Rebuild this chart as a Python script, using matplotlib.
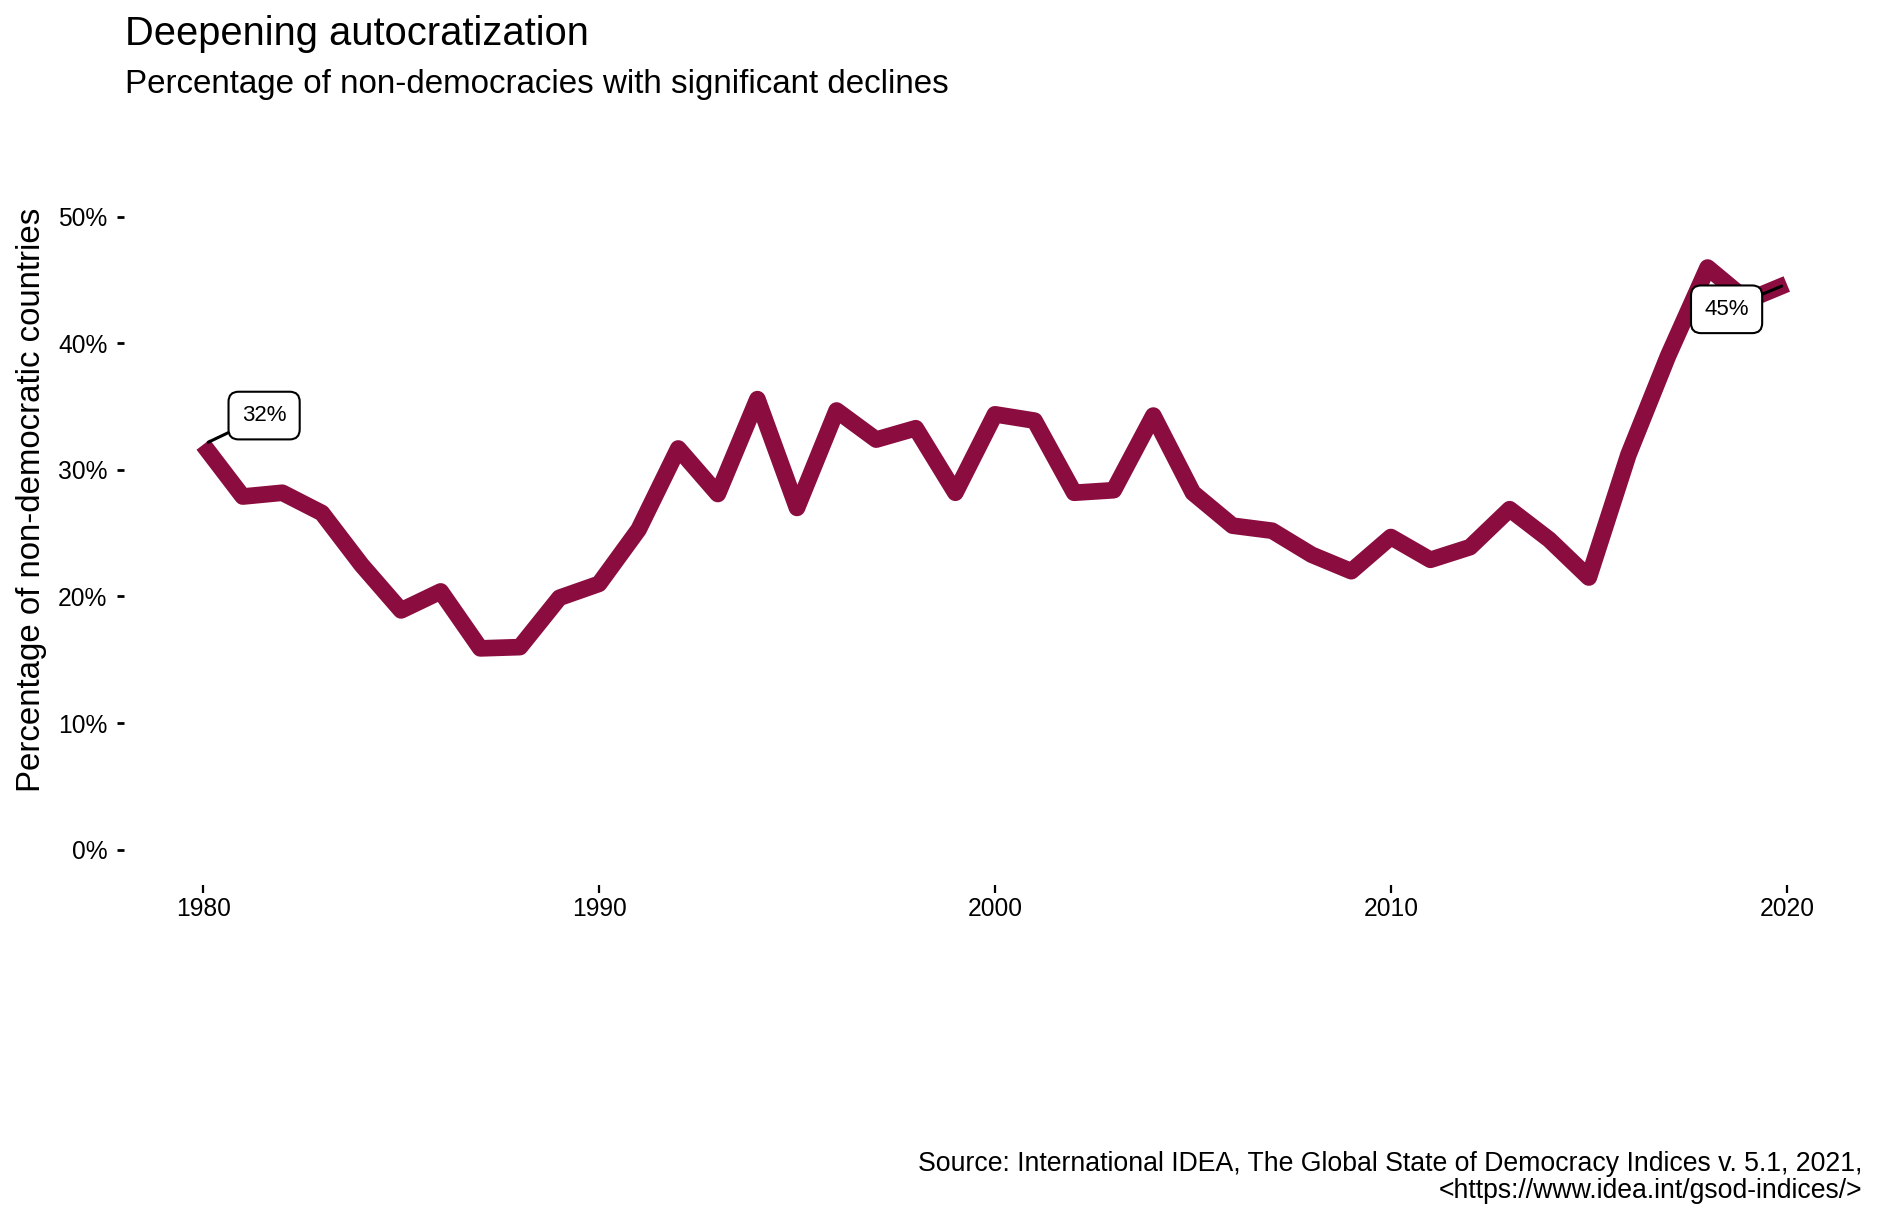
import numpy as np
import matplotlib.pyplot as plt
from matplotlib.ticker import PercentFormatter

plt.rcParams['font.family'] = ['Liberation Sans', 'DejaVu Sans']

years = np.arange(1980, 2021)
share = [32.0, 27.9, 28.2, 26.6, 22.5, 18.9, 20.4, 15.9, 16.0, 19.9,
         21.0, 25.3, 31.7, 28.1, 35.6, 27.0, 34.7, 32.4, 33.3, 28.2,
         34.4, 33.9, 28.2, 28.4, 34.3, 28.2, 25.6, 25.2, 23.3, 22.0,
         24.7, 22.9, 23.9, 26.9, 24.5, 21.5, 31.2, 39.0, 46.0, 43.4,
         44.7]
line_color = '#8b0c3f'

fig = plt.figure(figsize=(18.81, 12.22), dpi=100)
ax = fig.add_axes([0.0659, 0.2758, 0.9261, 0.5736])

ax.plot(years, share, color=line_color, lw=12,
        solid_capstyle='butt', solid_joinstyle='round', zorder=2)

ax.set_xlim(1978, 2022)
ax.set_ylim(-2.8, 52.6)
ax.set_xticks([1980, 1990, 2000, 2010, 2020])
ax.set_yticks([0, 10, 20, 30, 40, 50])
ax.yaxis.set_major_formatter(PercentFormatter(decimals=0))
ax.tick_params(axis='x', length=5.5, width=1.6, pad=3.5, labelsize=17.7)
ax.tick_params(axis='y', length=5, width=2, pad=7, labelsize=17.7)
for s in ax.spines.values():
    s.set_visible(False)

# end-point labels
bbox = dict(boxstyle='round,pad=0.6,rounding_size=0.45', fc='white',
            ec='black', lw=1.5)
ax.annotate(f'{share[0]:.0f}%', xy=(years[0], share[0]),
            xytext=(1981.54, 34.3),
            ha='center', va='center', fontsize=16, bbox=bbox, zorder=3,
            arrowprops=dict(arrowstyle='-', color='black', lw=2.2,
                            shrinkA=0, shrinkB=4))
ax.annotate(f'{share[-1]:.0f}%', xy=(years[-1], share[-1]),
            xytext=(2018.48, 42.7),
            ha='center', va='center', fontsize=16, bbox=bbox, zorder=3,
            arrowprops=dict(arrowstyle='-', color='black', lw=2.2,
                            shrinkA=0, shrinkB=4))

fig.text(0.0664, 0.9725, 'Deepening autocratization', fontsize=28.7,
         ha='left', va='center')
fig.text(0.0664, 0.931, 'Percentage of non-democracies with significant declines',
         fontsize=23.9, ha='left', va='center')
fig.text(0.0166, 0.591, 'Percentage of non-democratic countries', fontsize=23.8,
         rotation=90, ha='center', va='center')
fig.text(0.99, 0.0368,
         'Source: International IDEA, The Global State of Democracy Indices v. 5.1, 2021,\n'
         '<https://www.idea.int/gsod-indices/>',
         fontsize=19.2, ha='right', va='center', linespacing=1.05)

fig.savefig('out.png', dpi=100)
